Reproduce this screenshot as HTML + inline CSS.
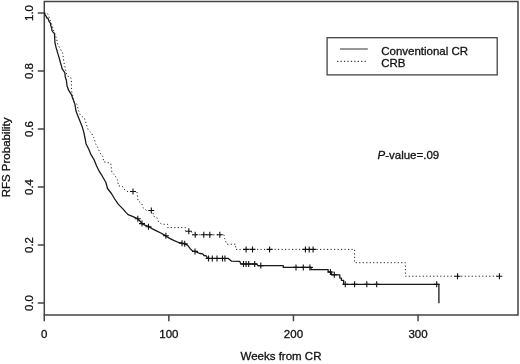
<!DOCTYPE html>
<html><head><meta charset="utf-8"><style>
html,body{margin:0;padding:0;background:#fff;width:520px;height:364px;overflow:hidden}
svg{display:block;will-change:transform}
text{font-family:"Liberation Sans",sans-serif;fill:#111;stroke:#111;stroke-width:0.3}
</style></head><body>
<svg width="520" height="364" viewBox="0 0 520 364">
<rect x="0" y="0" width="520" height="364" fill="#fff"/>
<!-- frame -->
<g fill="none" stroke="#444" stroke-width="1.5">
<path d="M44.3 1.5 H518 V314.9 H44.3 Z"/>
</g>
<!-- ticks -->
<g fill="none" stroke="#444" stroke-width="1.5">
<path d="M37.8 13H44.25M37.8 71H44.25M37.8 129H44.25M37.8 187H44.25M37.8 245H44.25M37.8 303H44.25"/>
<path d="M44.25 314.8V321.3M168.85 314.8V321.3M293.45 314.8V321.3M418.05 314.8V321.3"/>
</g>
<!-- tick labels -->
<g font-size="11.5" text-anchor="middle">
<text x="44.25" y="337.8">0</text>
<text x="168.85" y="337.8">100</text>
<text x="293.45" y="337.8">200</text>
<text x="418.05" y="337.8">300</text>
<text transform="translate(32.8 13) rotate(-90)">1.0</text>
<text transform="translate(32.8 71) rotate(-90)">0.8</text>
<text transform="translate(32.8 129) rotate(-90)">0.6</text>
<text transform="translate(32.8 187) rotate(-90)">0.4</text>
<text transform="translate(32.8 245) rotate(-90)">0.2</text>
<text transform="translate(32.8 303) rotate(-90)">0.0</text>
<text x="281" y="360.2">Weeks from CR</text>
<text transform="translate(10.2 157.4) rotate(-90)">RFS Probability</text>
</g>
<!-- legend -->
<rect x="327.1" y="37.7" width="170.1" height="37.2" fill="none" stroke="#444" stroke-width="1.3"/>
<path d="M340 49H367.8" stroke="#444" stroke-width="1.1"/>
<path d="M337 61.4H366.2" stroke="#444" stroke-width="1.1" stroke-dasharray="1.3 2.15"/>
<g font-size="11.5">
<text x="381.2" y="54.7">Conventional CR</text>
<text x="381.2" y="66.8">CRB</text>
<text x="377.5" y="158.9"><tspan font-style="italic">P</tspan>-value=.09</text>
</g>
<!-- curves -->
<g id="curves" fill="none">
<path d="M44.2 13.0L45.4 15.0L46.9 17.9L48.3 18.9L49.0 21.4L50.4 23.2L50.8 25.7L51.7 28.0L51.9 30.5L53.3 32.5L54.5 33.6L54.6 36.6L55.0 43.2L56.1 47.6L57.7 53.1L59.4 58.6L60.5 63.0L61.5 66.0L62.0 68.7L64.8 72.6L65.3 77.0L66.4 80.3L67.0 85.8L68.6 90.2L71.4 94.6L73.0 99.0L74.9 104.4L76.0 111.0L77.7 115.4L79.9 120.9L82.1 126.4L83.7 131.9L85.4 140.0L86.0 143.7L88.8 149.2L91.0 154.7L94.3 160.2L96.5 165.7L99.2 171.2L101.5 174.8L105.9 182.5L107.5 188.5L111.4 193.5L114.7 199.0L118.0 203.9L120.4 206.4L123.1 209.1L125.9 212.4L128.1 214.6L132.5 216.3L135.8 217.9L137.7 218.7L140.4 221.5L142.1 223.7L145.4 225.3L148.7 226.4L152.0 228.6L156.4 230.8L160.8 233.0L164.1 234.9L166.2 236.3L169.6 238.4L173.7 240.4L178.5 242.5L182.0 243.2L184.7 243.8L187.5 245.2L190.2 248.7L193.0 251.4L195.0 251.4L199.8 253.5L202.7 253.8L204.0 255.5L206.2 255.9L207.6 258.4L228.3 258.4L231.6 261.2L239.8 261.4L240.9 264.0L256.5 264.0L258.0 265.6L283.3 265.6L283.3 267.4L311.0 267.4L311.0 269.7L328.2 269.7L328.2 272.0L331.5 272.0L331.5 274.8L339.8 274.8L339.8 278.1L341.4 278.1L341.4 280.3L343.6 280.3L343.6 284.3L438.9 284.3L438.9 303.3" stroke="#1a1a1a" stroke-width="1.3" stroke-linejoin="round"/>
<path d="M134.8 218.8H140.8M137.8 215.8V221.8M139.0 223.6H145.0M142.0 220.6V226.6M145.5 226.8H151.5M148.5 223.8V229.8M162.9 235.7H168.9M165.9 232.7V238.7M179.0 243.2H185.0M182.0 240.2V246.2M181.7 243.8H187.7M184.7 240.8V246.8M192.0 251.4H198.0M195.0 248.4V254.4M205.6 258.5H211.6M208.6 255.5V261.5M209.3 258.5H215.3M212.3 255.5V261.5M214.0 258.5H220.0M217.0 255.5V261.5M219.5 258.5H225.5M222.5 255.5V261.5M221.9 258.5H227.9M224.9 255.5V261.5M240.5 264.0H246.5M243.5 261.0V267.0M243.1 264.0H249.1M246.1 261.0V267.0M245.7 264.0H251.7M248.7 261.0V267.0M251.7 264.0H257.7M254.7 261.0V267.0M257.8 265.6H263.8M260.8 262.6V268.6M293.0 267.4H299.0M296.0 264.4V270.4M300.3 267.4H306.3M303.3 264.4V270.4M306.9 267.4H312.9M309.9 264.4V270.4M327.4 272.0H333.4M330.4 269.0V275.0M331.3 274.8H337.3M334.3 271.8V277.8M342.3 284.3H348.3M345.3 281.3V287.3M351.6 284.3H357.6M354.6 281.3V287.3M363.8 284.3H369.8M366.8 281.3V287.3M373.7 284.3H379.7M376.7 281.3V287.3M433.7 284.3H439.7M436.7 281.3V287.3" stroke="#111" stroke-width="1.1"/>
<path d="M44.2 13.0L47.0 13.0L48.6 15.4L50.0 20.0L52.5 27.0L55.0 34.4L56.6 38.8L57.7 44.3L60.5 49.2L62.7 53.1L63.2 56.9L63.8 61.9L65.3 68.2L67.0 75.9L70.3 77.0L71.4 79.2L71.4 90.2L73.0 96.8L73.6 101.2L77.1 104.4L78.2 109.9L80.4 115.4L84.3 118.1L85.4 120.9L87.0 126.4L88.1 129.7L91.4 133.0L93.6 137.4L94.3 138.2L95.4 143.7L97.6 147.0L99.8 152.5L103.1 156.9L103.6 161.8L107.5 162.4L110.8 163.5L111.3 167.9L111.9 172.3L115.2 175.9L117.4 179.7L118.5 185.8L122.4 186.3L123.7 188.8L127.0 191.5L136.9 191.5L137.4 195.4L138.0 200.9L141.8 203.6L142.9 207.5L146.5 210.5L153.1 210.5L153.1 216.0L156.9 217.6L158.6 222.0L161.9 224.3L167.6 224.3L167.6 227.6L185.4 227.6L185.4 231.2L191.5 231.2L192.3 234.8L224.0 234.8L224.7 238.7L226.8 244.2L235.7 244.2L235.7 249.4L354.6 249.4L354.6 262.7L405.4 262.7L405.4 276.2L499.4 276.2" stroke="#222" stroke-width="1" stroke-dasharray="1.2 2.3"/>
<path d="M130.0 191.5H136.0M133.0 188.5V194.5M148.3 210.5H154.3M151.3 207.5V213.5M185.8 231.2H191.8M188.8 228.2V234.2M192.2 234.8H198.2M195.2 231.8V237.8M200.8 234.8H206.8M203.8 231.8V237.8M206.8 234.8H212.8M209.8 231.8V237.8M216.8 234.8H222.8M219.8 231.8V237.8M243.1 249.4H249.1M246.1 246.4V252.4M249.5 249.4H255.5M252.5 246.4V252.4M266.6 249.4H272.6M269.6 246.4V252.4M302.4 249.4H308.4M305.4 246.4V252.4M306.2 249.4H312.2M309.2 246.4V252.4M310.1 249.4H316.1M313.1 246.4V252.4M454.5 276.2H460.5M457.5 273.2V279.2M496.4 276.2H502.4M499.4 273.2V279.2" stroke="#111" stroke-width="1.1"/>
</g>
</svg>
</body></html>
